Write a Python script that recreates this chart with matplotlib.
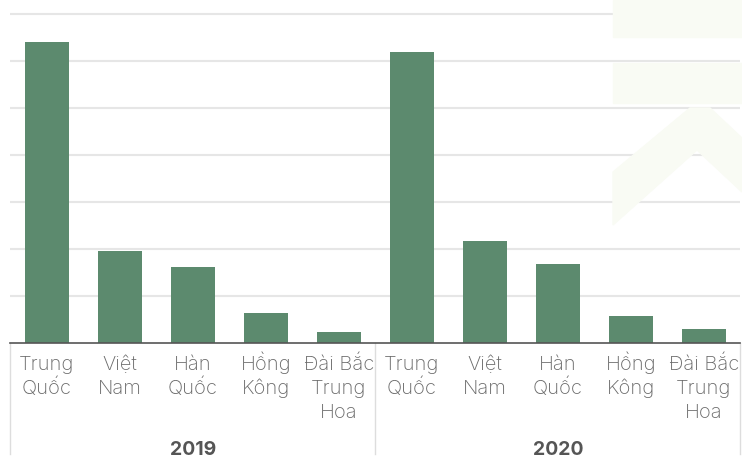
import numpy as np
import matplotlib.pyplot as plt
from matplotlib.patches import Polygon, Rectangle

years = ["2019", "2020"]
countries = ["Trung\nQuốc", "Việt\nNam", "Hàn\nQuốc", "Hồng\nKông", "Đài Bắc\nTrung\nHoa"]
val_2019 = [6.40, 1.96, 1.62, 0.64, 0.23]
val_2020 = [6.19, 2.17, 1.68, 0.57, 0.30]

plt.rcParams['font.family'] = ['Inter', 'DejaVu Sans']

W, H = 742, 459
fig = plt.figure(figsize=(W / 100, H / 100), dpi=100)

# faint watermark in the upper right corner
wm = "#f9fbf4"
fig.patches.append(Rectangle((613 / W, 1 - 37 / H), 129 / W, 37 / H, transform=fig.transFigure, color=wm, zorder=0))
fig.patches.append(Rectangle((613 / W, 1 - 103 / H), 129 / W, 40 / H, transform=fig.transFigure, color=wm, zorder=0))
chev = [(613, 225), (613, 172), (690, 108), (710, 108), (742, 138), (742, 192), (697, 150)]
fig.patches.append(Polygon([(x / W, 1 - y / H) for x, y in chev], transform=fig.transFigure, color=wm, zorder=0))

base_px = 342.7
step_px = 47.0
ymax = 7.05
ax_h = ymax * step_px
ax = fig.add_axes([10.3 / W, (H - base_px) / H, 730 / W, ax_h / H])
ax.patch.set_alpha(0)

values = val_2019 + val_2020
x = np.arange(len(values))
ax.bar(x, values, width=0.6, color="#5c8a6e", zorder=2)

ax.set_xlim(-0.5, len(values) - 0.5)
ax.set_ylim(0, ymax)
ax.set_yticks(np.arange(1, 8))
ax.yaxis.grid(True, color="#e6e6e6", linewidth=1.5, zorder=0)
ax.tick_params(axis="y", length=0, labelleft=False)

ax.set_xticks(x, [""] * len(x))
ax.tick_params(axis="x", length=0)

tr = ax.get_xaxis_transform()
# category labels, one line at a time so every first line shares a baseline
for xi, lab in zip(x, countries * 2):
    for j, line in enumerate(lab.split("\n")):
        ax.annotate(line, xy=(xi, 0), xycoords=tr, xytext=(0, -19.7 - 17.3 * j),
                    textcoords="offset points", ha="center", va="baseline",
                    fontsize=14.5, fontweight="light", color="#6a6a6a",
                    annotation_clip=False)

for s in ["top", "right", "left"]:
    ax.spines[s].set_visible(False)
ax.spines["bottom"].set_color("#555555")
ax.spines["bottom"].set_linewidth(1.2)

n = len(countries)
for i in range(len(years) + 1):
    ax.plot([i * n - 0.5, i * n - 0.5], [0, -0.335], transform=tr, color="#dddddd",
            linewidth=1, clip_on=False)
for i, yr in enumerate(years):
    ax.text(i * n + (n - 1) / 2, -0.340, yr, transform=tr, ha="center", va="baseline",
            fontsize=14, fontweight="bold", color="#555555")

fig.savefig("out.png", dpi=100)
